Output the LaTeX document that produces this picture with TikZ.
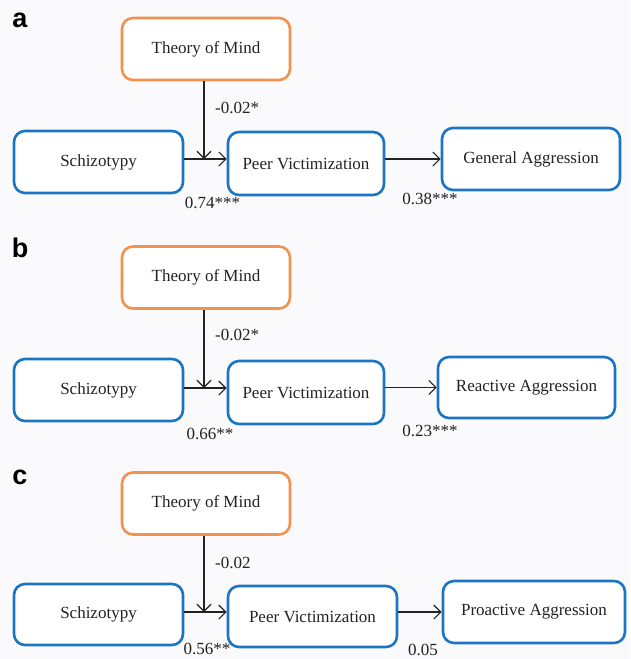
\documentclass[tikz,border=0pt]{standalone}
\usepackage{fontspec}
\setmainfont{Liberation Serif}
\newfontfamily\panelfont{Liberation Sans}
\usetikzlibrary{positioning, arrows.meta}

\definecolor{tomorange}{RGB}{242,146,78}
\definecolor{varblue}{RGB}{28,117,195}
\definecolor{inkgray}{RGB}{35,35,35}
\definecolor{paper}{RGB}{250,250,252}

\tikzset{
	var/.style={draw=varblue, line width=2.6pt, rounded corners=11pt, fill=white,
		minimum height=62pt, text=inkgray, font=\fontsize{17}{20}\selectfont},
	mod/.style={var, draw=tomorange, minimum width=168pt},
	coef/.style={text=inkgray, font=\fontsize{17}{20}\selectfont, inner sep=0pt},
	panel/.style={font=\panelfont\bfseries\fontsize{27}{30}\selectfont, text=black, inner sep=0pt},
	path/.style={-{Straight Barb[length=7pt,width=14pt]}, line width=1.2pt, draw=inkgray}
}

\begin{document}
\begin{tikzpicture}[x=1pt, y=-1pt]
	\fill[paper] (0,0) rectangle (630,659);
	\useasboundingbox (0,0) rectangle (630,659);

	% panel a
	\node[panel] (la) at (20,20) {a};
	\node[mod] (tomA) at (206,49) {Theory of Mind};
	\node[var, minimum width=169pt] (schA) at (98.5,162) {Schizotypy};
	\node[var, minimum width=156pt, minimum height=63pt] (pvA) at (306,163.5) {Peer Victimization};
	\node[var, minimum width=178pt] (gaA) at (531,159) {General Aggression};
	\coordinate (mA) at (204,159);
	\draw[path] (schA.east |- mA) -- (pvA.west |- mA);
	\draw[path] (tomA.south -| mA) -- (mA);
	\draw[path] (pvA.east |- gaA) -- (gaA.west);
	\node[coef, anchor=west] (cA1) at (215,108) {-0.02*};
	\node[coef] (cA2) at (212.5,203) {0.74***};
	\node[coef] (cA3) at (430,199) {0.38***};

	% panel b
	\node[panel] (lb) at (20,248) {b};
	\node[mod] (tomB) at (206,277.5) {Theory of Mind};
	\node[var, minimum width=169pt] (schB) at (98.5,390) {Schizotypy};
	\node[var, minimum width=156pt, minimum height=63pt] (pvB) at (306,392.5) {Peer Victimization};
	\node[var, minimum width=177pt, minimum height=61pt] (raB) at (526.5,387.5) {Reactive Aggression};
	\coordinate (mB) at (204,388);
	\draw[path] (schB.east |- mB) -- (pvB.west |- mB);
	\draw[path] (tomB.south -| mB) -- (mB);
	\draw[path] (pvB.east |- raB) -- (raB.west);
	\node[coef, anchor=west] (cB1) at (215,335) {-0.02*};
	\node[coef] (cB2) at (210,434) {0.66**};
	\node[coef] (cB3) at (430,431) {0.23***};

	% panel c
	\node[panel] (lc) at (20,477) {c};
	\node[mod] (tomC) at (206,503.5) {Theory of Mind};
	\node[var, minimum width=169pt, minimum height=61pt] (schC) at (98.5,614.5) {Schizotypy};
	\node[var, minimum width=169pt, minimum height=61pt] (pvC) at (312.5,616.5) {Peer Victimization};
	\node[var, minimum width=182pt] (paC) at (534,612) {Proactive Aggression};
	\coordinate (mC) at (204,612);
	\draw[path] (schC.east |- mC) -- (pvC.west |- mC);
	\draw[path] (tomC.south -| mC) -- (mC);
	\draw[path] (pvC.east |- paC) -- (paC.west);
	\node[coef, anchor=west] (cC1) at (215,563) {-0.02};
	\node[coef] (cC2) at (207,649) {0.56**};
	\node[coef] (cC3) at (423,649.5) {0.05};
\end{tikzpicture}
\end{document}
